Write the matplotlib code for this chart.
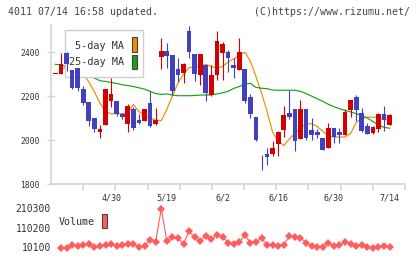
import numpy as np
import matplotlib
matplotlib.use('Agg')
import matplotlib.pyplot as plt
import matplotlib.transforms as mtransforms
from matplotlib.patches import Rectangle

# Config
W, H = 420, 259
UP_COLOR = '#d40000'
DOWN_COLOR = '#4141bf'
MA5_COLOR = '#f08c00'
MA25_COLOR = '#16a316'
VOL_COLOR = '#ff5e5e'
AXIS_COLOR = '#d6d6d6'
TEXT_COLOR = '#333333'
FONT = 'DejaVu Sans Mono'

# Daily candles (first one is the partly visible day before the window)
opens = [2301, 2301, 2398, 2320, 2330, 2233, 2174, 2100, 2035, 2070,
         2179, 2176, 2121, 2075, 2143, 2093, 2089, 2170, 2075, 2380,
         2407, 2388, 2325, 2307, 2497, 2392, 2297, 2342, 2206, 2297,
         2396, 2402, 2342, 2317, 2324, 2194, 2106, 1932, 1937, 1938,
         1983, 2047, 2123, 2142, 2003, 2142, 2047, 2039, 2009, 1964,
         2054, 2036, 2021, 2138, 2198, 2123, 2065, 2032, 2050, 2118,
         2067]
highs = [2301, 2395, 2400, 2320, 2330, 2244, 2174, 2100, 2070, 2233,
         2282, 2176, 2125, 2165, 2150, 2118, 2142, 2222, 2145, 2465,
         2441, 2388, 2372, 2352, 2520, 2392, 2392, 2342, 2342, 2497,
         2445, 2408, 2372, 2467, 2324, 2209, 2106, 1932, 1964, 1997,
         2042, 2153, 2226, 2142, 2183, 2142, 2100, 2052, 2009, 2077,
         2054, 2054, 2142, 2183, 2206, 2148, 2080, 2062, 2123, 2153,
         2120]
lows = [2301, 2301, 2316, 2232, 2225, 2162, 2062, 2035, 2009, 2070,
        2150, 2108, 2095, 2039, 2047, 2075, 2089, 2060, 2070, 2322,
        2327, 2203, 2263, 2261, 2373, 2270, 2251, 2176, 2200, 2274,
        2274, 2312, 2282, 2317, 2171, 2100, 1997, 1862, 1888, 1926,
        1926, 2012, 2097, 1951, 2003, 2001, 2001, 2009, 1953, 1964,
        1986, 1986, 2021, 2107, 2088, 2036, 2029, 2027, 2039, 2042,
        2067]
closes = [2301, 2347, 2347, 2236, 2236, 2168, 2089, 2050, 2050, 2233,
          2210, 2118, 2103, 2156, 2057, 2080, 2142, 2066, 2092, 2407,
          2384, 2224, 2297, 2347, 2403, 2302, 2392, 2215, 2297, 2453,
          2437, 2376, 2330, 2403, 2176, 2118, 2001, 1930, 1922, 1964,
          2036, 2115, 2106, 1998, 2142, 2009, 2024, 2022, 1953, 2054,
          2013, 2021, 2126, 2183, 2135, 2042, 2029, 2059, 2118, 2092,
          2115]

ma5 = [np.nan, 2325, 2330, 2320, 2310, 2300, 2265, 2220, 2168, 2130,
       2120, 2120, 2120, 2125, 2162, 2130, 2110, 2100, 2092, 2088,
       2140, 2200, 2260, 2300, 2330, 2332, 2335, 2345, 2335, 2328,
       2335, 2355, 2370, 2385, 2400, 2360, 2290, 2215, 2130, 2035,
       1995, 1975, 2005, 2030, 2055, 2072, 2075, 2062, 2040, 2018,
       2014, 2014, 2014, 2030, 2080, 2100, 2104, 2104, 2104, 2095,
       2088]
ma25 = [2345, 2342, 2335, 2320, 2310, 2300, 2290, 2283, 2270, 2267,
        2262, 2258, 2252, 2248, 2244, 2238, 2232, 2222, 2212, 2208,
        2210, 2205, 2202, 2202, 2202, 2203, 2205, 2205, 2206, 2210,
        2215, 2222, 2235, 2244, 2255, 2258, 2240, 2236, 2234, 2228,
        2227, 2227, 2227, 2227, 2222, 2212, 2200, 2188, 2176, 2163,
        2152, 2143, 2135, 2128, 2120, 2112, 2100, 2085, 2068, 2058,
        2054]

# Volume for days 1..60
volumes = [10100, 13200, 26900, 21800, 26900, 30500, 18250, 21800, 26900, 30500,
           21800, 26900, 30500, 32000, 16700, 21800, 52400, 43700, 210300, 48800,
           66100, 61000, 32000, 98200, 66100, 47300, 72800, 56000, 77900, 69200,
           38600, 30500, 40700, 77900, 38600, 43700, 61000, 26900, 26900, 21800,
           26900, 72800, 69200, 64100, 38600, 21800, 18250, 18250, 38600, 23300,
           26900, 40700, 32000, 23300, 26900, 15200, 10100, 18250, 21800, 15200]

date_labels = ['4/30', '5/19', '6/2', '6/16', '6/30', '7/14']
date_idx = [10, 20, 30, 40, 50, 60]

price_ticks = [1800, 2000, 2200, 2400]
header_left = '4011 07/14 16:58 updated.'
header_right = '(C)https://www.rizumu.net/'


def main():
    fig = plt.figure(figsize=(W / 100, H / 100), dpi=100)
    # image pixel coords (origin top-left) -> figure
    pix = mtransforms.Affine2D().scale(1 / W, -1 / H).translate(0, 1) + fig.transFigure

    x = np.arange(len(opens))
    xlim = (-0.79, 62.76)

    # Price panel
    ax = fig.add_axes([51 / W, 1 - 184 / H, 354 / W, 159 / H])
    ax.set_xlim(*xlim)
    ax.set_ylim(1800, 2524)

    o = np.array(opens, dtype=float)
    c = np.array(closes, dtype=float)
    up = c >= o
    colors = np.where(up, UP_COLOR, DOWN_COLOR)
    bottoms = np.minimum(o, c)
    heights = np.maximum(np.abs(c - o), 3)

    ax.vlines(x, lows, highs, colors=colors, linewidth=0.8, zorder=4)
    ax.bar(x, heights, bottom=bottoms, width=0.84, color=colors, linewidth=0, zorder=5)

    ax.plot(x, ma5, color=MA5_COLOR, linewidth=0.85, zorder=2)
    ax.plot(x, ma25, color=MA25_COLOR, linewidth=0.85, zorder=2)

    for s in ['top', 'right']:
        ax.spines[s].set_visible(False)
    for s in ['left', 'bottom']:
        ax.spines[s].set_color(AXIS_COLOR)
        ax.spines[s].set_linewidth(1.2)

    ax.set_yticks(price_ticks)
    ax.set_yticklabels([str(t) for t in price_ticks], fontsize=5.8, family=FONT, color=TEXT_COLOR)
    ax.tick_params(axis='y', direction='inout', length=6, width=1, color=AXIS_COLOR, pad=5)
    ax.set_xticks(np.linspace(xlim[0], xlim[1], 12)[1:])
    ax.set_xticklabels([])
    ax.tick_params(axis='x', direction='out', length=4, width=1.2, color=AXIS_COLOR)

    for i, lab in zip(date_idx, date_labels):
        ax.text(i, 198, lab, transform=mtransforms.blended_transform_factory(ax.transData, pix),
                ha='center', va='center', fontsize=6, family=FONT, color=TEXT_COLOR)

    # legend box, above the MA lines but under the candles
    ax.add_patch(Rectangle((65, 30), 78, 47, transform=pix, facecolor='white',
                           edgecolor='#cfcfcf', linewidth=1.0, zorder=3, clip_on=False))
    ax.text(124, 46, '5-day MA', transform=pix, ha='right', va='center', fontsize=7.3,
            family=FONT, color=TEXT_COLOR, zorder=3.5)
    ax.text(124, 62, '25-day MA', transform=pix, ha='right', va='center', fontsize=7.3,
            family=FONT, color=TEXT_COLOR, zorder=3.5)
    ax.add_patch(Rectangle((131.5, 37), 5.5, 14.5, transform=pix, facecolor=MA5_COLOR,
                           edgecolor='#444444', linewidth=0.8, zorder=3.5, clip_on=False))
    ax.add_patch(Rectangle((131.5, 54.5), 5.5, 14.5, transform=pix, facecolor=MA25_COLOR,
                           edgecolor='#444444', linewidth=0.8, zorder=3.5, clip_on=False))

    # Volume panel
    vax = fig.add_axes([51 / W, 1 - 252 / H, 354 / W, 47 / H])
    vax.set_xlim(*xlim)
    vmin, vmax = min(volumes), max(volumes)
    u = (vmax - vmin) / 39.3
    vax.set_ylim(vmin - 3.7 * u, vmax + 4 * u)
    vx = np.arange(1, len(volumes) + 1)
    vax.plot(vx, volumes, color=VOL_COLOR, linewidth=0.8, marker='D', markersize=4.4,
             markeredgewidth=0)
    vax.axis('off')
    for t in [vmin, (vmin + vmax) // 2, vmax]:
        vax.text(-0.79, t, str(t), transform=vax.transData,
                 ha='right', va='center', fontsize=7, family=FONT, color=TEXT_COLOR, clip_on=False)
    fig.text(59, 222, 'Volume', transform=pix, ha='left', va='center', fontsize=7.2,
             family=FONT, color=TEXT_COLOR)
    fig.patches.append(Rectangle((102, 213.5), 5, 14.5, transform=pix, facecolor=VOL_COLOR,
                                 edgecolor='#444444', linewidth=0.8))

    # header
    fig.text(8, 12, header_left, transform=pix, ha='left', va='center', fontsize=7.1,
             family=FONT, color='#444444')
    fig.text(410, 12, header_right, transform=pix, ha='right', va='center', fontsize=7.1,
             family=FONT, color='#444444')

    fig.savefig('out.png', dpi=100, facecolor='white')


if __name__ == "__main__":
    main()
